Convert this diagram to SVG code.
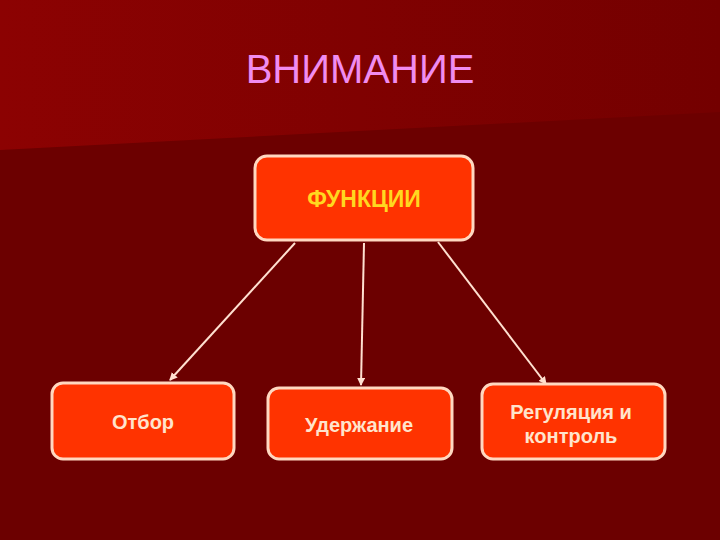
<svg xmlns="http://www.w3.org/2000/svg" width="720" height="540" viewBox="0 0 720 540">
<defs>
<linearGradient id="top" x1="0" y1="0" x2="1" y2="0">
<stop offset="0" stop-color="#8c0202"/>
<stop offset="1" stop-color="#740000"/>
</linearGradient>
<marker id="ah" markerWidth="8" markerHeight="8" refX="7" refY="4" orient="auto" markerUnits="userSpaceOnUse">
<path d="M0,0 L8,4 L0,8 Z" fill="#ffe0d0"/>
</marker>
<style>
.box{fill:#ff3300;stroke:#ffd8c0;stroke-width:3}
.lbl{font-family:"Liberation Sans",Arial,sans-serif;font-weight:bold;font-size:20px;fill:#ffe4cc;text-anchor:middle}
.conn{stroke:#ffe0d0;stroke-width:2;fill:none;marker-end:url(#ah)}
</style>
</defs>
<rect width="720" height="540" fill="#6c0000"/>
<polygon points="0,0 720,0 720,112 0,150" fill="url(#top)"/>
<text x="360" y="83" font-family="'Liberation Sans',Arial,sans-serif" font-size="40" fill="#f08cf0" text-anchor="middle">ВНИМАНИЕ</text>
<g id="connectors">
<line class="conn" x1="295" y1="243" x2="170" y2="380"/>
<line class="conn" x1="364" y1="243" x2="361" y2="385"/>
<line class="conn" x1="438" y1="242" x2="546" y2="384"/>
</g>
<g id="functions">
<rect class="box" x="255" y="156" width="218" height="84" rx="12"/>
<text class="lbl" x="364" y="207" style="fill:#ffd820;font-size:23px">ФУНКЦИИ</text>
</g>
<g id="otbor">
<rect class="box" x="52" y="383" width="182" height="76" rx="11"/>
<text class="lbl" x="143" y="429">Отбор</text>
</g>
<g id="uderzhanie">
<rect class="box" x="268" y="388" width="184" height="71" rx="11"/>
<text class="lbl" x="359" y="432">Удержание</text>
</g>
<g id="regulyaciya">
<rect class="box" x="482" y="384" width="183" height="75" rx="11"/>
<text class="lbl" x="571" y="419">Регуляция и</text>
<text class="lbl" x="571" y="443">контроль</text>
</g>
</svg>
